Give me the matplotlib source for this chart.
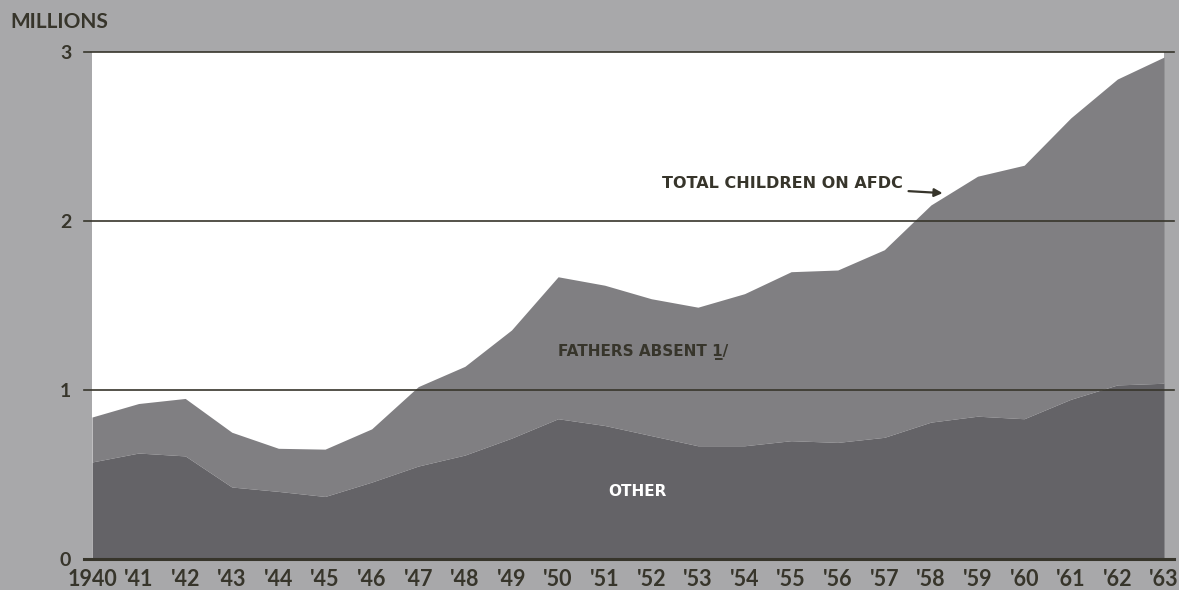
import numpy as np
import matplotlib
matplotlib.use("Agg")
import matplotlib.pyplot as plt

# ===== DATA (millions of children) ===== #
years = list(range(1940, 1964))
year_labels = ["1940", "'41", "'42", "'43", "'44", "'45", "'46", "'47", "'48", "'49",
               "'50", "'51", "'52", "'53", "'54", "'55", "'56", "'57", "'58", "'59",
               "'60", "'61", "'62", "'63"]
total_children = [0.84, 0.92, 0.95, 0.75, 0.655, 0.65, 0.77, 1.02, 1.14, 1.355,
                  1.67, 1.62, 1.54, 1.49, 1.57, 1.70, 1.71, 1.83, 2.095, 2.265,
                  2.33, 2.61, 2.84, 2.97]
other = [0.574, 0.627, 0.61, 0.426, 0.40, 0.37, 0.455, 0.55, 0.615, 0.715,
         0.83, 0.79, 0.73, 0.67, 0.67, 0.70, 0.69, 0.72, 0.81, 0.845,
         0.83, 0.945, 1.03, 1.04]
y_ticks = [0, 1, 2, 3]

# ===== STYLE ===== #
bg = "#a8a8aa"
fathers_col = "#807f82"
other_col = "#646367"
ink = "#37352b"
plt.rcParams['font.family'] = ['Lato', 'DejaVu Sans']

W, H = 1179, 590
fig = plt.figure(figsize=(W / 100, H / 100), dpi=100, facecolor=bg)
left, right, bottom, top = 92, 1164, 559, 52
ax = fig.add_axes([left / W, 1 - bottom / H, (right - left) / W, (bottom - top) / H])
ax.set_facecolor("white")

ax.fill_between(years, other, total_children, color=fathers_col, lw=0, zorder=1)
ax.fill_between(years, 0, other, color=other_col, lw=0, zorder=2)

ax.set_xlim(years[0], years[-1])
ax.set_ylim(0, 3)

# horizontal rules, running a little past the plot on both sides
for v in y_ticks:
    ax.axhline(v, xmin=-0.007, xmax=1.009, color=ink, lw=2.2 if v == 0 else 1.2,
               clip_on=False, zorder=3)

for s in ax.spines.values():
    s.set_visible(False)
ax.set_yticks(y_ticks)
ax.set_yticklabels([str(v) for v in y_ticks], fontsize=14, fontweight="bold", color=ink)
ax.set_xticks(years)
ax.set_xticklabels(year_labels, fontsize=15.5, fontweight="bold", color=ink)
ax.tick_params(axis="y", length=0, pad=15)
ax.tick_params(axis="x", length=0, pad=7)

fig.text(10 / W, 1 - 22 / H, "MILLIONS", fontsize=15, fontweight="bold", color=ink,
         ha="left", va="center")

# series labels
ax.annotate("TOTAL CHILDREN ON AFDC", xy=(1958.25, 2.165), xytext=(1957.4, 2.22),
            fontsize=11.5, fontweight="bold", color=ink, ha="right", va="center",
            family=['DejaVu Sans'],
            arrowprops=dict(arrowstyle="-|>", color=ink, lw=1.6, mutation_scale=12,
                            shrinkA=2, shrinkB=0), zorder=5)
ax.text(1950.0, 1.225, "FATHERS ABSENT 1\u0332/", fontsize=11, fontweight="bold",
        color=ink, ha="left", va="center", family=['DejaVu Sans'], zorder=5)
ax.text(1951.7, 0.40, "OTHER", fontsize=11, fontweight="bold", color="white",
        ha="center", va="center", family=['DejaVu Sans'], zorder=5)

fig.savefig("out.png", dpi=100, facecolor=bg)
